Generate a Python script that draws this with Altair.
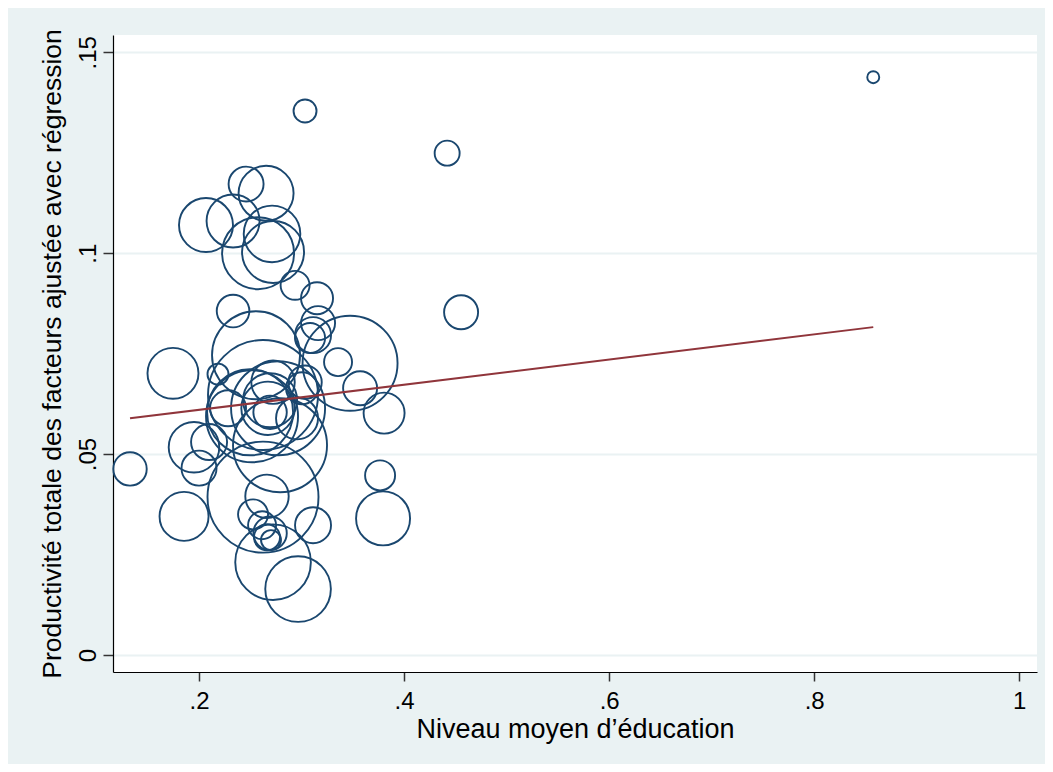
import altair as alt
import pandas as pd

# Niveau moyen d'éducation (x), productivité ajustée (y), poids (taille des cercles)
educ = [0.8576, 0.3034, 0.4420, 0.4556, 0.2459, 0.2654, 0.2068, 0.2332, 0.2712, 0.2576,
        0.2722, 0.2937, 0.3151, 0.2332, 0.3161, 0.3112, 0.3083, 0.3356, 0.3473, 0.1746,
        0.2185, 0.2556, 0.3571, 0.3805, 0.1327, 0.1951, 0.2098, 0.2000, 0.1854, 0.3766,
        0.3795, 0.3112, 0.2663, 0.2624, 0.2722, 0.2966, 0.2527, 0.2693, 0.2663, 0.2702,
        0.2790, 0.2517, 0.2693, 0.3005, 0.2283, 0.2722, 0.2624, 0.2771, 0.2673, 0.2693,
        0.3034, 0.2498, 0.2615, 0.2956]
ptf = [0.1438, 0.1354, 0.1249, 0.0853, 0.1172, 0.1149, 0.1070, 0.1080, 0.1048, 0.1000,
       0.1003, 0.0920, 0.0888, 0.0856, 0.0826, 0.0796, 0.0789, 0.0729, 0.0726, 0.0701,
       0.0699, 0.0746, 0.0664, 0.0602, 0.0463, 0.0517, 0.0530, 0.0465, 0.0345, 0.0447,
       0.0340, 0.0323, 0.0395, 0.0393, 0.0231, 0.0164, 0.0350, 0.0303, 0.0293, 0.0286,
       0.0522, 0.0594, 0.0634, 0.0664, 0.0614, 0.0679, 0.0647, 0.0614, 0.0614, 0.0604,
       0.0679, 0.0604, 0.0323, 0.0589]
poids = [36, 132, 156, 289, 306, 756, 729, 702, 801, 1296,
         961, 210, 256, 266, 289, 324, 225, 196, 2256, 650,
         110, 1936, 289, 420, 279, 640, 324, 306, 600, 225,
         729, 324, 471, 3080, 1429, 1076, 225, 279, 169, 100,
         2209, 2116, 729, 256, 324, 471, 3025, 2209, 713, 279,
         279, 1849, 196, 441]

# Droite de régression (extrémités)
fit_x = [0.1327, 0.8576]
fit_y = [0.0589, 0.0816]

y_ticks = [0, 0.05, 0.10, 0.15]
y_labels = ["0", ".05", ".1", ".15"]
x_ticks = [0.2, 0.4, 0.6, 0.8, 1.0]
x_labels = [".2", ".4", ".6", ".8", "1"]

pts = pd.DataFrame({"educ": educ, "ptf": ptf, "poids": poids})
fit = pd.DataFrame({"educ": fit_x, "ptf": fit_y})

FONT = "Liberation Sans"
BG = "#eaf2f3"

xlab_expr = "{" + ",".join(f"'{v}':'{l}'" for v, l in zip(["0.2", "0.4", "0.6", "0.8", "1"], x_labels)) + "}[toString(datum.value)]"
ylab_expr = "{" + ",".join(f"'{v}':'{l}'" for v, l in zip(["0", "0.05", "0.1", "0.15"], y_labels)) + "}[toString(datum.value)]"

xscale = alt.Scale(domain=[0.1161, 1.0173], nice=False, zero=False)
yscale = alt.Scale(domain=[-0.00423, 0.1543], nice=False, zero=False)

xaxis = alt.Axis(values=x_ticks, labelExpr=xlab_expr, title="Niveau moyen d’éducation",
                 grid=False, tickSize=9, labelPadding=8, titlePadding=3,
                 labelFontSize=24, titleFontSize=27, labelFont=FONT, titleFont=FONT,
                 labelColor="black", titleColor="black", titleFontWeight="normal",
                 domainColor="black", tickColor="#333333", tickWidth=1.5, domainWidth=1.2)
yaxis = alt.Axis(values=y_ticks, labelExpr=ylab_expr,
                 title="Productivité totale des facteurs ajustée avec régression",
                 grid=True, gridColor=BG, gridWidth=2, tickSize=10, labelPadding=3,
                 labelAngle=-90, labelAlign="center", labelBaseline="bottom",
                 titlePadding=10, labelFontSize=24, titleFontSize=26.5,
                 labelFont=FONT, titleFont=FONT, labelColor="black", titleColor="black",
                 titleFontWeight="normal", domainColor="black", tickColor="#333333",
                 tickWidth=1.5, domainWidth=1.2)

circles = alt.Chart(pts).mark_point(shape="circle", filled=False, strokeWidth=1.9,
                                     color="#1a476f", opacity=1).encode(
    x=alt.X("educ:Q", scale=xscale, axis=xaxis),
    y=alt.Y("ptf:Q", scale=yscale, axis=yaxis),
    size=alt.Size("poids:Q", scale=alt.Scale(domain=[0, 3600], range=[0, 14400]), legend=None),
)

line = alt.Chart(fit).mark_line(color="#90353b", strokeWidth=2).encode(
    x=alt.X("educ:Q", scale=xscale),
    y=alt.Y("ptf:Q", scale=yscale),
)

chart = alt.layer(circles, line).properties(
    width=924, height=637,
    autosize=alt.AutoSizeParams(type="none"),
    padding={"left": 105, "top": 27, "right": 8, "bottom": 92},
    background=BG,
).configure_view(fill="white", stroke=None)

chart.save("out.html", embed_options={"renderer": "svg", "actions": False})
